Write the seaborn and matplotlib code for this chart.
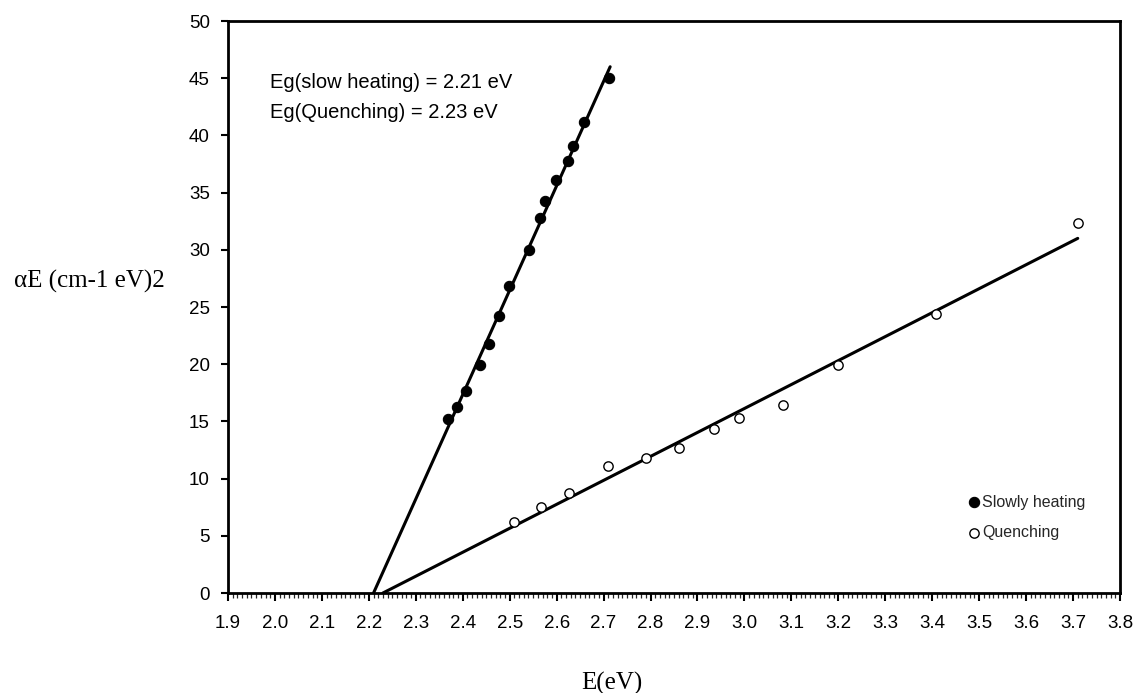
import matplotlib
matplotlib.use("Agg")
import matplotlib.pyplot as plt
import seaborn as sns
import pandas as pd
import numpy as np
from matplotlib.ticker import MultipleLocator, FormatStrFormatter

# ---- data ----
slow_E = [2.368, 2.388, 2.408, 2.437, 2.457, 2.477, 2.498, 2.542, 2.565,
          2.575, 2.598, 2.624, 2.635, 2.659, 2.711]
slow_A = [15.2, 16.3, 17.7, 19.9, 21.8, 24.2, 26.8, 30.0, 32.8,
          34.3, 36.1, 37.8, 39.1, 41.2, 45.0]
quench_E = [2.509, 2.567, 2.626, 2.710, 2.790, 2.860, 2.935, 2.988, 3.083,
            3.200, 3.409, 3.710]
quench_A = [6.18, 7.49, 8.77, 11.1, 11.8, 12.7, 14.3, 15.3, 16.4,
            19.9, 24.4, 32.3]
fit_slow_E = [2.21, 2.714]
fit_slow_A = [0.0, 46.0]
fit_quench_E = [2.23, 3.710]
fit_quench_A = [0.0, 31.0]
series_names = ["Slowly heating", "Quenching"]
annot_lines = ["Eg(slow heating) = 2.21 eV", "Eg(Quenching) = 2.23 eV"]

sns.set_theme(style="white")
plt.rcParams['font.family'] = ['Liberation Sans', 'DejaVu Sans']

W, H = 1137, 693
L, R, T, B = 228, 1120, 21, 593
fig = plt.figure(figsize=(W / 100, H / 100), dpi=100)
ax = fig.add_axes([L / W, 1 - B / H, (R - L) / W, (B - T) / H])

# fit lines
sns.lineplot(x=fit_slow_E, y=fit_slow_A, ax=ax, color="black", lw=2.2, legend=False)
sns.lineplot(x=fit_quench_E, y=fit_quench_A, ax=ax, color="black", lw=2.2, legend=False)

# points
sns.scatterplot(x=slow_E, y=slow_A, ax=ax, color="black", marker="o", s=55,
                edgecolor="black", linewidth=0.8, label=series_names[0], zorder=3)
sns.scatterplot(x=quench_E, y=quench_A, ax=ax, marker="o", s=45,
                facecolor="white", edgecolor="black", linewidth=1.0,
                label=series_names[1], zorder=3)

ax.set_xlim(1.9, 3.8)
ax.set_ylim(0, 50)
ax.xaxis.set_major_locator(MultipleLocator(0.1))
ax.xaxis.set_minor_locator(MultipleLocator(0.01))
ax.xaxis.set_major_formatter(FormatStrFormatter('%.1f'))
ax.yaxis.set_major_locator(MultipleLocator(5))

ax.tick_params(axis='x', which='major', direction='out', length=6, width=1.5,
               bottom=True, labelsize=13.5, pad=10, colors='black')
ax.tick_params(axis='x', which='minor', direction='out', length=3.5, width=0.9,
               bottom=True)
ax.tick_params(axis='y', which='major', direction='out', length=5, width=1.5,
               left=True, labelsize=13.5, pad=8, colors='black')

for sp in ax.spines.values():
    sp.set_visible(True)
    sp.set_color("black")
    sp.set_linewidth(2.0)

serif = ['Liberation Serif', 'DejaVu Serif']
ax.set_xlabel("E(eV)", family=serif, fontsize=18, color="black")
ax.xaxis.set_label_coords((612 - L) / (R - L), -(683 - B) / (B - T))
ax.xaxis.label.set_va('center')
ax.set_ylabel("\u03b1E (cm-1 eV)2", family=serif, fontsize=18, rotation=0,
              color="black", va='center', ha='center')
ax.yaxis.set_label_coords(-(L - 89) / (R - L), (B - 281) / (B - T))

ax.text(1.99, 44.6, annot_lines[0], fontsize=14.5, va='center', ha='left', color='black')
ax.text(1.99, 42.0, annot_lines[1], fontsize=14.5, va='center', ha='left', color='black')

leg = ax.legend(loc='lower left', bbox_to_anchor=((960 - L) / (R - L), 0.079),
                frameon=False, fontsize=11.5, handletextpad=0.1, borderpad=0,
                labelspacing=0.95, markerscale=1.0, handlelength=0.8)

fig.savefig("out.png", dpi=100, facecolor="white")
